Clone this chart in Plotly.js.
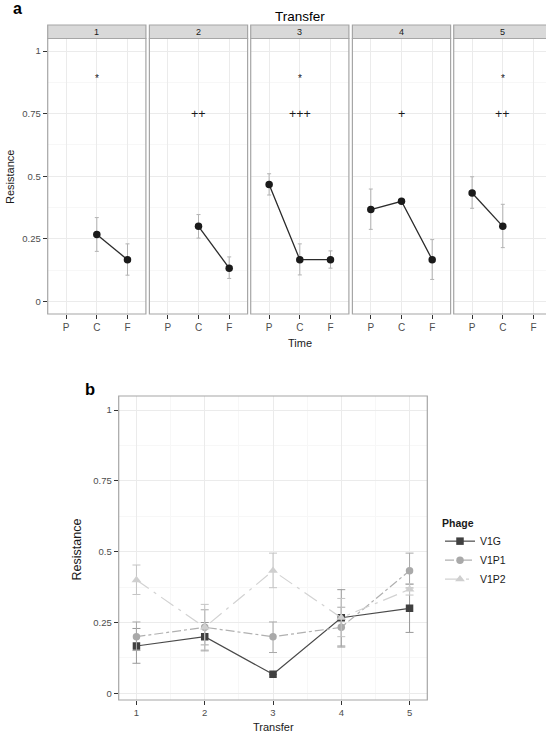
<!DOCTYPE html>
<html><head><meta charset="utf-8">
<script src="https://cdn.plot.ly/plotly-3.0.1.min.js"></script>
<style>html,body{margin:0;padding:0;background:#fff}#chart{width:546px;height:734px}</style>
</head><body><div id="chart"></div>
<script>
// ---------- data: panel a ----------
const timeCats = ['P', 'C', 'F'];
const transfers = ['1', '2', '3', '4', '5'];
const aMean1 = [null, 0.267, 0.167];
const aMean2 = [null, 0.300, 0.133];
const aMean3 = [0.467, 0.167, 0.167];
const aMean4 = [0.367, 0.400, 0.167];
const aMean5 = [0.433, 0.300, null];
const aUpper1 = [null, 0.335, 0.230];
const aUpper2 = [null, 0.347, 0.178];
const aUpper3 = [0.510, 0.230, 0.202];
const aUpper4 = [0.449, 0.400, 0.247];
const aUpper5 = [0.498, 0.388, null];
const aLower1 = [null, 0.200, 0.105];
const aLower2 = [null, 0.253, 0.092];
const aLower3 = [0.425, 0.106, 0.133];
const aLower4 = [0.288, 0.400, 0.088];
const aLower5 = [0.372, 0.215, null];
const aStars = ['*', '', '*', '', '*'];
const aPlus = ['', '++', '+++', '+', '++'];
const starLevel = 0.9, plusLevel = 0.75;
const yTicks = [0, 0.25, 0.5, 0.75, 1];
const yTickText = ['0', '0.25', '0.5', '0.75', '1'];

// ---------- data: panel b ----------
const bTransfer = [1, 2, 3, 4, 5];
const phages = ['V1G', 'V1P1', 'V1P2'];
const v1gMean = [0.167, 0.200, 0.067, 0.267, 0.300];
const v1gUpper = [0.229, 0.250, 0.067, 0.366, 0.385];
const v1gLower = [0.106, 0.150, 0.067, 0.167, 0.215];
const v1p1Mean = [0.200, 0.233, 0.200, 0.233, 0.433];
const v1p1Upper = [0.252, 0.295, 0.252, 0.304, 0.495];
const v1p1Lower = [0.151, 0.171, 0.144, 0.163, 0.372];
const v1p2Mean = [0.400, 0.233, 0.433, 0.267, 0.367];
const v1p2Upper = [0.453, 0.314, 0.495, 0.335, 0.387];
const v1p2Lower = [0.349, 0.153, 0.373, 0.200, 0.347];

// ---------- layout helpers ----------
const W = 546, H = 734;
const px = v => v / W;
const py = v => 1 - v / H;
const FONT = 'Liberation Sans, Arial, sans-serif';
const gridC = '#ebebeb', minorC = '#f7f7f7', borderC = '#a6a6a6';

const aMeans = [aMean1, aMean2, aMean3, aMean4, aMean5];
const aUppers = [aUpper1, aUpper2, aUpper3, aUpper4, aUpper5];
const aLowers = [aLower1, aLower2, aLower3, aLower4, aLower5];

const panelLeft = [47.7, 149.4, 250.7, 352.4, 453.7];
const panelW = 98.2;
const aTop = 38.5, aBot = 314, stripTop = 25;

const traces = [];
const layout = {
  width: W, height: H, margin: {l: 0, r: 0, t: 0, b: 0},
  paper_bgcolor: '#fff', plot_bgcolor: '#fff',
  font: {family: FONT, size: 10, color: '#1a1a1a'},
  showlegend: true,
  shapes: [], annotations: []
};

for (let i = 0; i < 5; i++) {
  const n = i + 1;
  const xa = 'xaxis' + (n === 1 ? '' : n), ya = 'yaxis' + (n === 1 ? '' : n);
  const xr = 'x' + (n === 1 ? '' : n), yr = 'y' + (n === 1 ? '' : n);
  const left = panelLeft[i];
  const right = Math.min(left + panelW, W);
  const rangeEnd = -0.6 + (right - left) * 3.2 / panelW;
  layout[xa] = {
    domain: [px(left), px(right)], anchor: yr, type: 'category',
    categoryorder: 'array', categoryarray: timeCats,
    range: [-0.6, rangeEnd], showgrid: true, gridcolor: gridC, gridwidth: 1,
    zeroline: false, showline: false, ticks: 'outside', ticklen: 4, tickcolor: '#333',
    tickfont: {family: FONT, size: 10, color: '#4d4d4d'}, fixedrange: true
  };
  layout[ya] = {
    domain: [py(aBot), py(aTop)], anchor: xr, range: [-0.05, 1.05],
    tickvals: yTicks, ticktext: yTickText, showgrid: true, gridcolor: gridC,
    minor: {dtick: 0.125, tick0: 0, showgrid: true, gridcolor: minorC, ticks: ''},
    zeroline: false, showline: false,
    ticks: n === 1 ? 'outside' : '', ticklen: 4, tickcolor: '#333',
    showticklabels: n === 1,
    tickfont: {family: FONT, size: 9.5, color: '#4d4d4d'}, fixedrange: true
  };
  const m = aMeans[i], up = aUppers[i], lo = aLowers[i];
  traces.push({
    type: 'scatter', mode: 'lines+markers', xaxis: xr, yaxis: yr,
    x: timeCats, y: m, showlegend: false, connectgaps: false,
    line: {color: '#2b2b2b', width: 1.3},
    marker: {color: '#1a1a1a', size: 7.5},
    error_y: {type: 'data', symmetric: false,
      array: m.map((v, k) => v === null ? null : up[k] - v),
      arrayminus: m.map((v, k) => v === null ? null : v - lo[k]),
      color: '#b3b3b3', thickness: 1, width: 2}
  });
  // panel border
  layout.shapes.push({type: 'rect', xref: 'paper', yref: 'paper', layer: 'above',
    x0: px(left), x1: px(left + panelW), y0: py(aBot), y1: py(aTop),
    line: {color: borderC, width: 1.2}, fillcolor: 'rgba(0,0,0,0)'});
  // strip
  layout.shapes.push({type: 'rect', xref: 'paper', yref: 'paper', layer: 'above',
    x0: px(left), x1: px(left + panelW), y0: py(aTop), y1: py(stripTop),
    line: {color: borderC, width: 1.2}, fillcolor: '#d9d9d9'});
  layout.annotations.push({xref: 'paper', yref: 'paper', x: px(left + panelW / 2), y: py((aTop + stripTop) / 2),
    text: transfers[i], showarrow: false, xanchor: 'center', yanchor: 'middle',
    font: {family: FONT, size: 9, color: '#1a1a1a'}});
  if (aStars[i]) layout.annotations.push({xref: xr, yref: yr, x: 'C', y: starLevel, text: aStars[i],
    showarrow: false, xanchor: 'center', yanchor: 'middle', yshift: -2,
    font: {family: FONT, size: 10, color: '#1a1a1a'}});
  if (aPlus[i]) layout.annotations.push({xref: xr, yref: yr, x: 'C', y: plusLevel, text: aPlus[i],
    showarrow: false, xanchor: 'center', yanchor: 'middle',
    font: {family: FONT, size: 12.5, color: '#1a1a1a'}});
}

// panel a texts
layout.annotations.push(
  {xref: 'paper', yref: 'paper', x: px(11), y: py(8.5), text: '<b>a</b>', showarrow: false,
   xanchor: 'left', yanchor: 'middle', font: {family: FONT, size: 16, color: '#000'}},
  {xref: 'paper', yref: 'paper', x: px(300), y: py(17), text: 'Transfer', showarrow: false,
   xanchor: 'center', yanchor: 'middle', font: {family: FONT, size: 13.5, color: '#000'}},
  {xref: 'paper', yref: 'paper', x: px(300), y: py(343), text: 'Time', showarrow: false,
   xanchor: 'center', yanchor: 'middle', font: {family: FONT, size: 11, color: '#1a1a1a'}},
  {xref: 'paper', yref: 'paper', x: px(10), y: py(177), text: 'Resistance', showarrow: false,
   textangle: -90, xanchor: 'center', yanchor: 'middle', font: {family: FONT, size: 11, color: '#1a1a1a'}}
);

// ---------- panel b ----------
// plot scale kept as in the reference (0 at y=693.3, 1 at y=410.3); bottom edge raised a little
const bL = 118.7, bR = 427.3, bT = 396, bB = 700;
const bPxPerUnit = 283;
const bYmin = -(bB - 693.3) / bPxPerUnit;
layout.xaxis6 = {
  domain: [px(bL), px(bR)], anchor: 'y6', range: [0.74, 5.26],
  tickvals: bTransfer, ticktext: bTransfer.map(String),
  showgrid: true, gridcolor: gridC,
  minor: {dtick: 0.5, tick0: 0, showgrid: true, gridcolor: minorC, ticks: ''},
  zeroline: false, showline: false, ticks: 'outside', ticklen: 4, tickcolor: '#333',
  tickfont: {family: FONT, size: 9.5, color: '#4d4d4d'}, fixedrange: true
};
layout.yaxis6 = {
  domain: [py(bB), py(bT)], anchor: 'x6', range: [bYmin, 1.05],
  tickvals: yTicks, ticktext: yTickText, showgrid: true, gridcolor: gridC,
  minor: {dtick: 0.125, tick0: 0, showgrid: true, gridcolor: minorC, ticks: ''},
  zeroline: false, showline: false, ticks: 'outside', ticklen: 4, tickcolor: '#333',
  tickfont: {family: FONT, size: 9.5, color: '#4d4d4d'}, fixedrange: true
};
layout.shapes.push({type: 'rect', xref: 'paper', yref: 'paper', layer: 'above',
  x0: px(bL), x1: px(bR), y0: py(bB), y1: py(bT),
  line: {color: borderC, width: 1.2}, fillcolor: 'rgba(0,0,0,0)'});

const bMeans = [v1gMean, v1p1Mean, v1p2Mean];
const bUppers = [v1gUpper, v1p1Upper, v1p2Upper];
const bLowers = [v1gLower, v1p1Lower, v1p2Lower];
const bColors = ['#404040', '#a9a9a9', '#cfcfcf'];
const bErrColors = ['#999999', '#a9a9a9', '#c4c4c4'];
const bLineColors = ['#4a4a4a', '#b0b0b0', '#d2d2d2'];
const bSymbols = ['square', 'circle', 'triangle-up'];
const bDash = ['solid', 'dashdot', 'longdashdot'];
const bSizes = [7.5, 7.5, 8.5];
for (let s = 0; s < 3; s++) {
  const m = bMeans[s], up = bUppers[s], lo = bLowers[s];
  traces.push({
    type: 'scatter', mode: 'lines+markers', xaxis: 'x6', yaxis: 'y6',
    name: phages[s], x: bTransfer, y: m,
    line: {color: bLineColors[s], width: 1.2, dash: bDash[s]},
    marker: {color: bColors[s], size: bSizes[s], symbol: bSymbols[s]},
    error_y: {type: 'data', symmetric: false,
      array: m.map((v, k) => up[k] - v), arrayminus: m.map((v, k) => v - lo[k]),
      color: bErrColors[s], thickness: 1, width: 4}
  });
}
layout.legend = {
  x: px(440), y: py(513), xanchor: 'left', yanchor: 'top',
  bgcolor: 'rgba(0,0,0,0)', borderwidth: 0,
  font: {family: FONT, size: 10.5, color: '#1a1a1a'},
  title: {text: '<b>Phage</b>', side: 'top', font: {family: FONT, size: 10.5, color: '#1a1a1a'}},
  itemwidth: 30, tracegroupgap: 0
};
layout.annotations.push(
  {xref: 'paper', yref: 'paper', x: px(82.5), y: py(389), text: '<b>b</b>', showarrow: false,
   xanchor: 'left', yanchor: 'middle', font: {family: FONT, size: 16.5, color: '#000'}},
  {xref: 'paper', yref: 'paper', x: px(76.5), y: py(550), text: 'Resistance', showarrow: false,
   textangle: -90, xanchor: 'center', yanchor: 'middle', font: {family: FONT, size: 12.5, color: '#1a1a1a'}},
  {xref: 'paper', yref: 'paper', x: px(273), y: py(734), text: 'Transfer', showarrow: false,
   xanchor: 'center', yanchor: 'bottom', borderpad: 0, font: {family: FONT, size: 11, color: '#1a1a1a'}}
);

Plotly.newPlot('chart', traces, layout, {staticPlot: true, displayModeBar: false});
</script>
</body></html>
